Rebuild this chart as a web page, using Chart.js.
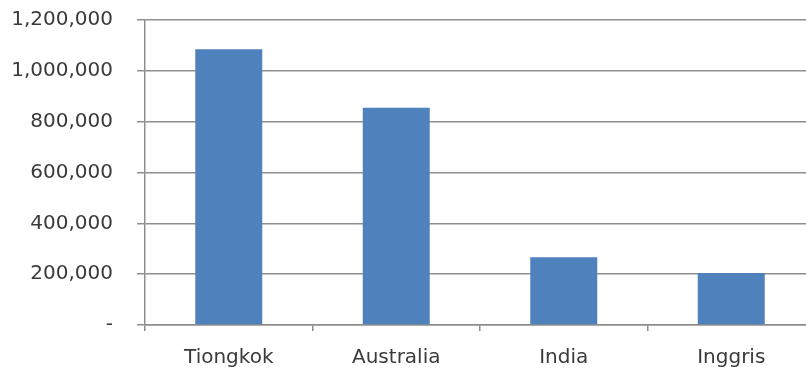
<!DOCTYPE html>
<html>
<head>
<meta charset="utf-8">
<script src="https://cdn.jsdelivr.net/npm/chart.js@4"></script>
<style>
  html, body { margin: 0; padding: 0; background: #fff; overflow: hidden; }
  #wrap { width: 815px; height: 371px; position: relative; }
</style>
</head>
<body>
<div id="wrap"><canvas id="c"></canvas></div>
<script>
const categories = ['Tiongkok', 'Australia', 'India', 'Inggris'];
const values = [1085000, 855000, 267000, 205000];
const yTicks = [0, 200000, 400000, 600000, 800000, 1000000, 1200000];

const gridColor = '#8e8e8e';
const textColor = '#3a3a3a';
const fontSpec = { family: 'DejaVu Sans', size: 20 };

new Chart(document.getElementById('c'), {
  type: 'bar',
  data: {
    labels: categories,
    datasets: [{
      data: values,
      backgroundColor: '#4f81bd',
      borderWidth: 0,
      categoryPercentage: 1.0,
      barPercentage: 0.4
    }]
  },
  options: {
    responsive: true,
    maintainAspectRatio: false,
    animation: false,
    layout: { padding: { top: 20, left: 0, right: 0, bottom: 0 } },
    plugins: { legend: { display: false }, tooltip: { enabled: false } },
    scales: {
      x: {
        grid: { drawOnChartArea: false, drawTicks: true, tickLength: 6, color: gridColor, lineWidth: 1.5, offset: true },
        border: { color: gridColor, width: 1.5 },
        ticks: { color: textColor, font: fontSpec, padding: 15, maxRotation: 0 },
        afterFit: (s) => { s.height = 46; s.paddingLeft = 0; s.paddingRight = 0; }
      },
      y: {
        min: yTicks[0],
        max: yTicks[yTicks.length - 1],
        afterBuildTicks: (s) => { s.ticks = yTicks.map(v => ({ value: v })); },
        grid: { color: gridColor, lineWidth: 1.5, drawTicks: true, tickLength: 8 },
        border: { color: gridColor, width: 1.5 },
        ticks: {
          color: textColor, font: fontSpec, padding: 24,
          callback: (v) => v === 0 ? '-' : Number(v).toLocaleString('en-US')
        },
        afterFit: (s) => { s.width = 145; s.paddingTop = 0; s.paddingBottom = 0; }
      }
    }
  }
});
</script>
</body>
</html>
